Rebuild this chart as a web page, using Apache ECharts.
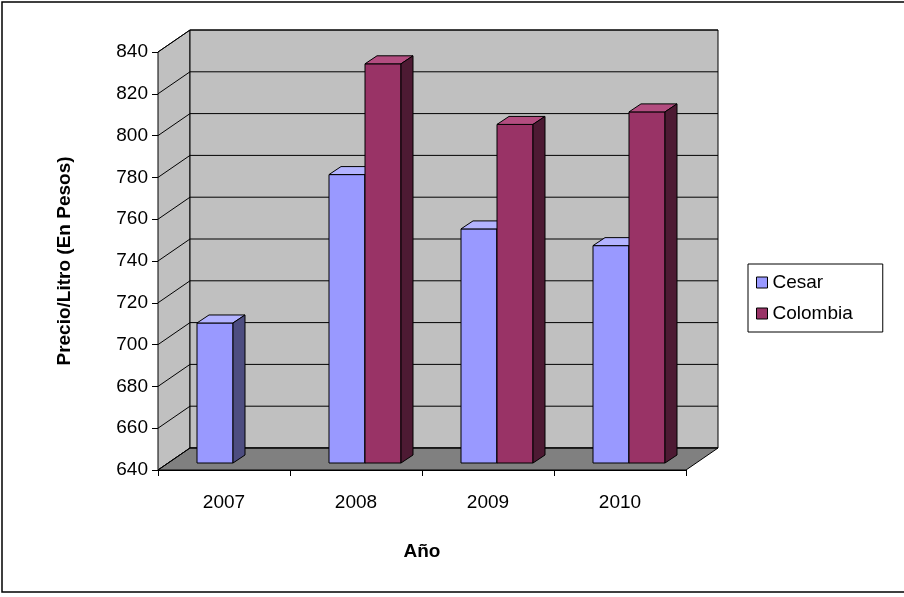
<!DOCTYPE html>
<html><head><meta charset="utf-8">
<script src="https://cdn.jsdelivr.net/npm/echarts@6/dist/echarts.min.js"></script>
<style>html,body{margin:0;padding:0;background:#fff}#c{width:904px;height:597px}</style>
</head><body><div id="c"></div>
<script>
let years = ['2007', '2008', '2009', '2010'];
let cesar = [707, 778, 752, 744];
let colombia = [null, 831, 802, 808];
let yTicks = [640, 660, 680, 700, 720, 740, 760, 780, 800, 820, 840];

let chart = echarts.init(document.getElementById('c'));
const DX = 32, DY = -22;   // depth of the box
const BD = 12, BH = -8;    // depth of a bar

function wall(params, api) {
  let bl = api.coord([0, 640]);
  let w = params.coordSys.width;
  let x0 = params.coordSys.x, x1 = x0 + w, yb = bl[1], yt = params.coordSys.y;
  let kids = [];
  kids.push({type: 'polygon', shape: {points: [[x0, yb], [x0 + DX, yb + DY], [x0 + DX, yt + DY], [x0, yt]]}, style: {fill: '#c0c0c0', stroke: '#000', lineWidth: 1}});
  kids.push({type: 'rect', shape: {x: x0 + DX, y: yt + DY, width: w, height: yb - yt}, style: {fill: '#c0c0c0', stroke: '#000', lineWidth: 1}});
  kids.push({type: 'polygon', shape: {points: [[x0, yb], [x0 + DX, yb + DY], [x1 + DX, yb + DY], [x1, yb]]}, style: {fill: '#808080', stroke: '#000', lineWidth: 1}});
  yTicks.forEach(function (t) {
    let y = api.coord([0, t])[1];
    kids.push({type: 'polyline', shape: {points: [[x0, y], [x0 + DX, y + DY], [x1 + DX, y + DY]]}, style: {stroke: '#000', lineWidth: 1, fill: null}});
  });
  return {type: 'group', children: kids};
}

function bar(s, front, top, side) {
  return function (params, api) {
    let v = api.value(1);
    if (v == null || isNaN(v)) return;
    let base = api.coord([api.value(0), 640]);
    let tp = api.coord([api.value(0), v]);
    let w = 36;
    let x0 = base[0] + 9 + (s === 0 ? -w : 0);
    let yb = base[1] - 7, yt = tp[1] - 7;
    let st = {stroke: '#000', lineWidth: 1};
    return {type: 'group', children: [
      {type: 'rect', shape: {x: x0, y: yt, width: w, height: yb - yt}, style: Object.assign({fill: front}, st)},
      {type: 'polygon', shape: {points: [[x0, yt], [x0 + BD, yt + BH], [x0 + w + BD, yt + BH], [x0 + w, yt]]}, style: Object.assign({fill: top}, st)},
      {type: 'polygon', shape: {points: [[x0 + w, yt], [x0 + w + BD, yt + BH], [x0 + w + BD, yb + BH], [x0 + w, yb]]}, style: Object.assign({fill: side}, st)}
    ]};
  };
}

let font = 'Liberation Sans';
let option = {
  animation: false,
  textStyle: {fontFamily: font},
  graphic: [{type: 'rect', shape: {x: 2, y: 2, width: 920, height: 590}, style: {fill: null, stroke: '#000', lineWidth: 1.5}}],
  grid: {left: 158, right: 218, top: 52, bottom: 127},
  legend: {
    left: 748, top: 264, orient: 'vertical', itemWidth: 11, itemHeight: 11, itemGap: 12,
    padding: [9, 30, 9, 8], borderColor: '#000', borderWidth: 1, icon: 'rect',
    textStyle: {fontSize: 19, color: '#000', fontFamily: font},
    data: [{name: 'Cesar', itemStyle: {color: '#9999ff', borderColor: '#000', borderWidth: 1}},
           {name: 'Colombia', itemStyle: {color: '#993366', borderColor: '#000', borderWidth: 1}}]
  },
  xAxis: {
    type: 'category', data: years, name: 'Año', nameLocation: 'middle', nameGap: 72,
    nameTextStyle: {fontWeight: 'bold', fontSize: 19, color: '#000', fontFamily: font},
    axisLine: {lineStyle: {color: '#000'}}, axisTick: {show: true, length: 6, lineStyle: {color: '#000'}},
    axisLabel: {fontSize: 19, color: '#000', margin: 23, fontFamily: font}
  },
  yAxis: {
    type: 'value', min: 640, max: 840, interval: 20, name: 'Precio/Litro (En Pesos)',
    nameLocation: 'middle', nameGap: 84, nameTextStyle: {fontWeight: 'bold', fontSize: 19, color: '#000', fontFamily: font},
    axisLine: {show: true, lineStyle: {color: '#000'}}, axisTick: {show: true, length: 6, lineStyle: {color: '#000'}},
    axisLabel: {fontSize: 19, color: '#000', margin: 10, fontFamily: font}, splitLine: {show: false}
  },
  series: [
    {type: 'custom', name: 'wall', renderItem: wall, data: [[0, 640]], z: 1, silent: true},
    {type: 'custom', name: 'Cesar', renderItem: bar(0, '#9999ff', '#b3b3ff', '#4d4d80'), data: years.map((y, i) => [i, cesar[i]]), z: 3},
    {type: 'custom', name: 'Colombia', renderItem: bar(1, '#993366', '#b34d80', '#4d1a33'), data: years.map((y, i) => [i, colombia[i]]), z: 3}
  ]
};
chart.setOption(option);
</script></body></html>
